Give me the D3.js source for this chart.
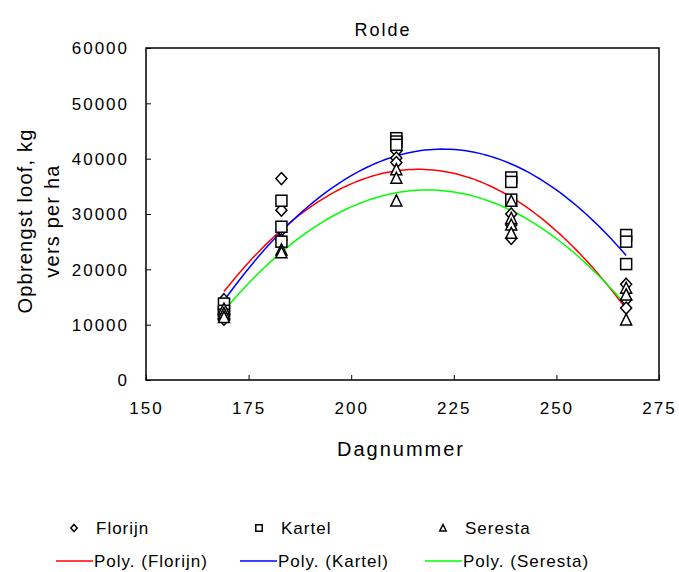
<!DOCTYPE html>
<html><head><meta charset="utf-8">
<script src="https://cdn.jsdelivr.net/npm/d3@7"></script>
<style>
body{margin:0;background:#fff;}
svg text{font-family:"Liberation Sans",Arial,sans-serif;fill:#000;}
</style></head>
<body><svg id="c" width="679" height="572"></svg>
<script>
const days = [169, 183, 211, 239, 267];
const florijn = [
  [169,14500],[169,13200],[169,11000],
  [183,36400],[183,30700],[183,27100],[183,25300],
  [211,41400],[211,40100],[211,39300],
  [239,30000],[239,28000],[239,25600],
  [267,17300],[267,14500],[267,13000]
];
const kartel = [
  [169,13800],[169,12500],[169,11800],
  [183,32400],[183,27700],[183,25000],
  [211,43700],[211,43100],[211,42500],
  [239,36600],[239,35800],[239,32600],
  [267,26200],[267,25000],[267,20950]
];
const seresta = [
  [169,12800],[169,12000],[169,11300],
  [183,23500],[183,23000],
  [211,38000],[211,36450],[211,32350],
  [239,32300],[239,29200],[239,28000],[239,26500],
  [267,16570],[267,15360],[267,10850]
];
const xTicks = [150,175,200,225,250,275];
const yTicks = [0,10000,20000,30000,40000,50000,60000];
const seriesNames = ["Florijn","Kartel","Seresta"];
const trendNames = ["Poly. (Florijn)","Poly. (Kartel)","Poly. (Seresta)"];
const trendColors = ["#ff0000","#0000ff","#00ff00"];

const svg = d3.select("#c");
const L=146,R=659,T=48,B=380;
const x = d3.scaleLinear().domain([150,275]).range([L,R]);
const y = d3.scaleLinear().domain([0,60000]).range([B,T]);

// quadratic least squares fit (Excel "Poly." trendline, order 2)
function polyfit(data){
  let n=data.length,sx=0,sx2=0,sx3=0,sx4=0,sy=0,sxy=0,sx2y=0;
  const m = d3.mean(data,d=>d[0]);
  data.forEach(([a,b])=>{const t=a-m;sx+=t;sx2+=t*t;sx3+=t*t*t;sx4+=t*t*t*t;sy+=b;sxy+=t*b;sx2y+=t*t*b;});
  const A=[[n,sx,sx2],[sx,sx2,sx3],[sx2,sx3,sx4]], v=[sy,sxy,sx2y];
  const det=M=>M[0][0]*(M[1][1]*M[2][2]-M[1][2]*M[2][1])-M[0][1]*(M[1][0]*M[2][2]-M[1][2]*M[2][0])+M[0][2]*(M[1][0]*M[2][1]-M[1][1]*M[2][0]);
  const D=det(A);
  const c=[0,1,2].map(k=>det(A.map((row,i)=>row.map((val,j)=>j===k?v[i]:val)))/D);
  return xx=>{const t=xx-m;return c[0]+c[1]*t+c[2]*t*t;};
}

// border
svg.append("rect").attr("x",L).attr("y",T).attr("width",R-L).attr("height",B-T)
  .attr("fill","none").attr("stroke","#000").attr("stroke-width",1.5);

// y axis
const yAxis = svg.append("g").attr("transform",`translate(${L},0)`)
  .call(d3.axisRight(y).tickValues(yTicks).tickSize(5).tickFormat(d3.format("d")));
yAxis.select(".domain").remove();
yAxis.selectAll("line").attr("stroke","#000").attr("stroke-width",1);
yAxis.selectAll("text").attr("x",-17).attr("text-anchor","end").attr("dy","0.35em")
  .style("font-size","17px").style("letter-spacing","2px");

// x axis
const xAxis = svg.append("g").attr("transform",`translate(0,${B})`)
  .call(d3.axisTop(x).tickValues(xTicks).tickSize(5).tickFormat(d3.format("d")));
xAxis.select(".domain").remove();
xAxis.selectAll("line").attr("stroke","#000").attr("stroke-width",1);
xAxis.selectAll("text").attr("y",34).attr("dy",0).attr("text-anchor","middle")
  .style("font-size","17px").style("letter-spacing","2px");

// trend lines
const all=[florijn,kartel,seresta];
const xs = d3.range(days[0], days[days.length-1]+0.01, 1);
all.forEach((data,i)=>{
  const f=polyfit(data);
  svg.append("path").datum(xs).attr("fill","none").attr("stroke",trendColors[i]).attr("stroke-width",1.5)
    .attr("d",d3.line().x(d=>x(d)).y(d=>y(f(d))));
});

// markers
function marker(g,k,cx,cy,s){
  if(k===0){
    g.append("path").attr("d",`M${cx},${cy-s*1.1}L${cx+s},${cy}L${cx},${cy+s*1.1}L${cx-s},${cy}Z`)
      .attr("fill","#fff").attr("stroke","#000").attr("stroke-width",1.5);
  } else if(k===1){
    g.append("rect").attr("x",cx-s).attr("y",cy-s).attr("width",2*s).attr("height",2*s)
      .attr("fill","#fff").attr("stroke","#000").attr("stroke-width",1.5);
  } else {
    g.append("path").attr("d",`M${cx},${cy-s*1.1}L${cx+s},${cy+s*0.9}L${cx-s},${cy+s*0.9}Z`)
      .attr("fill","#fff").attr("stroke","#000").attr("stroke-width",1.5);
  }
}
all.forEach((data,i)=>{
  const g=svg.append("g");
  data.forEach(d=>marker(g,i,x(d[0]),y(d[1]),5.5));
});

// titles
svg.append("text").attr("x",383).attr("y",36).attr("text-anchor","middle")
  .style("font-size","18px").style("letter-spacing","2px").text("Rolde");
svg.append("text").attr("x",401).attr("y",456).attr("text-anchor","middle")
  .style("font-size","20px").style("letter-spacing","2px").text("Dagnummer");
const yt=svg.append("text").attr("transform","translate(32,221) rotate(-90)").attr("text-anchor","middle")
  .style("font-size","20px").style("letter-spacing","1.2px");
yt.append("tspan").attr("x",0).attr("y",0).text("Opbrengst loof, kg");
yt.append("tspan").attr("x",0).attr("y",27).text("vers per ha");

// legend
const lg=svg.append("g");
const colX=[74,259,443];
seriesNames.forEach((n,i)=>{
  const g=lg.append("g");
  marker(g,i,colX[i],528,3.2);
  lg.append("text").attr("x",colX[i]+22).attr("y",534).style("font-size","17px").style("letter-spacing","1px").text(n);
});
const lineX=[56,240,425];
trendNames.forEach((n,i)=>{
  lg.append("line").attr("x1",lineX[i]).attr("x2",lineX[i]+37).attr("y1",561).attr("y2",561)
    .attr("stroke",trendColors[i]).attr("stroke-width",1.5);
  lg.append("text").attr("x",lineX[i]+38).attr("y",567).style("font-size","17px").style("letter-spacing","1px").text(n);
});
</script></body></html>
